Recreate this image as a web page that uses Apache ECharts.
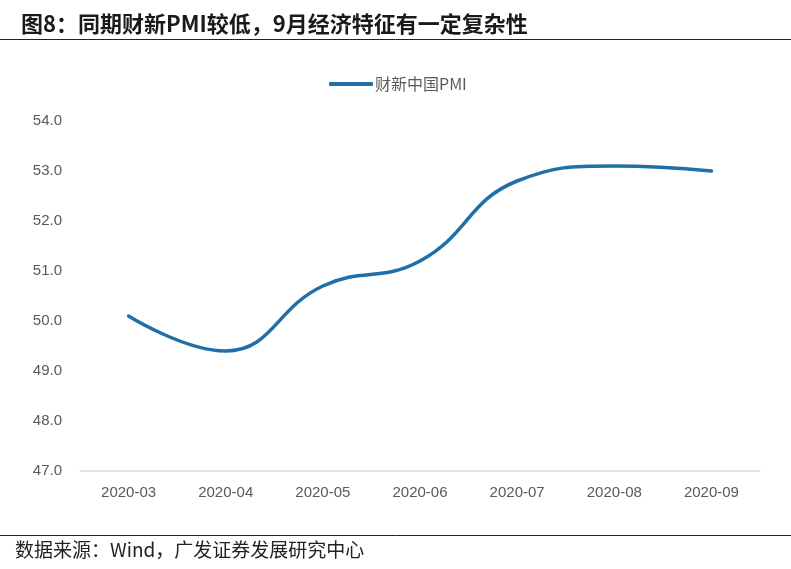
<!DOCTYPE html>
<html><head><meta charset="utf-8">
<script src="https://cdn.jsdelivr.net/npm/echarts@6/dist/echarts.min.js"></script>
<style>html,body{margin:0;padding:0;background:#fff}#c{width:791px;height:569px}</style>
</head><body><div id="c"></div>
<script>
const categories = ['2020-03','2020-04','2020-05','2020-06','2020-07','2020-08','2020-09'];
const pmiValues = [50.1, 49.4, 50.7, 51.2, 52.8, 53.1, 53.0];
const seriesName = '财新中国PMI';
const titleText = '图8：同期财新PMI较低，9月经济特征有一定复杂性';
const sourceText = '数据来源：Wind，广发证券发展研究中心';

const chart = echarts.init(document.getElementById('c'));
chart.setOption({
  backgroundColor: '#fff',
  animation: false,
  title: {
    text: titleText, left: 16, top: 8,
    textStyle: {fontSize: 22, fontWeight: 'bold', color: '#1a1a1a', fontFamily: 'Noto Sans CJK SC'}
  },
  graphic: [
    {type: 'line', shape: {x1: 0, y1: 39.5, x2: 791, y2: 39.5}, style: {stroke: '#222', lineWidth: 1}},
    {type: 'line', shape: {x1: 0, y1: 535.5, x2: 791, y2: 535.5}, style: {stroke: '#222', lineWidth: 1}},
    {type: 'text', left: 15, top: 540, style: {text: sourceText, fontSize: 19, fill: '#222', fontFamily: 'Noto Sans CJK SC'}}
  ],
  legend: {
    top: 71, left: 324,
    itemWidth: 44, itemHeight: 4, itemGap: 8,
    icon: 'roundRect',
    textStyle: {fontSize: 16, color: '#595959', fontFamily: 'Noto Sans CJK SC', padding: [0, 0, 0, -3]},
    data: [seriesName]
  },
  grid: {left: 80, right: 31, top: 121, bottom: 98},
  xAxis: {
    type: 'category', data: categories, boundaryGap: true,
    axisLine: {lineStyle: {color: '#d9d9d9', width: 1.5}},
    axisTick: {show: false},
    axisLabel: {fontSize: 15, color: '#595959', margin: 14, fontFamily: 'Liberation Sans'}
  },
  yAxis: {
    type: 'value', min: 47, max: 54, interval: 1,
    axisLine: {show: false}, axisTick: {show: false},
    splitLine: {show: false},
    axisLabel: {fontSize: 15, color: '#595959', margin: 18, fontFamily: 'Liberation Sans',
      formatter: v => v.toFixed(1)}
  },
  series: [{
    name: seriesName, type: 'line', data: pmiValues,
    smooth: 0.45, showSymbol: false, symbol: 'none',
    lineStyle: {color: '#1f6fa8', width: 3.5, cap: 'round'},
    itemStyle: {color: '#1f6fa8'}
  }]
});
</script></body></html>
